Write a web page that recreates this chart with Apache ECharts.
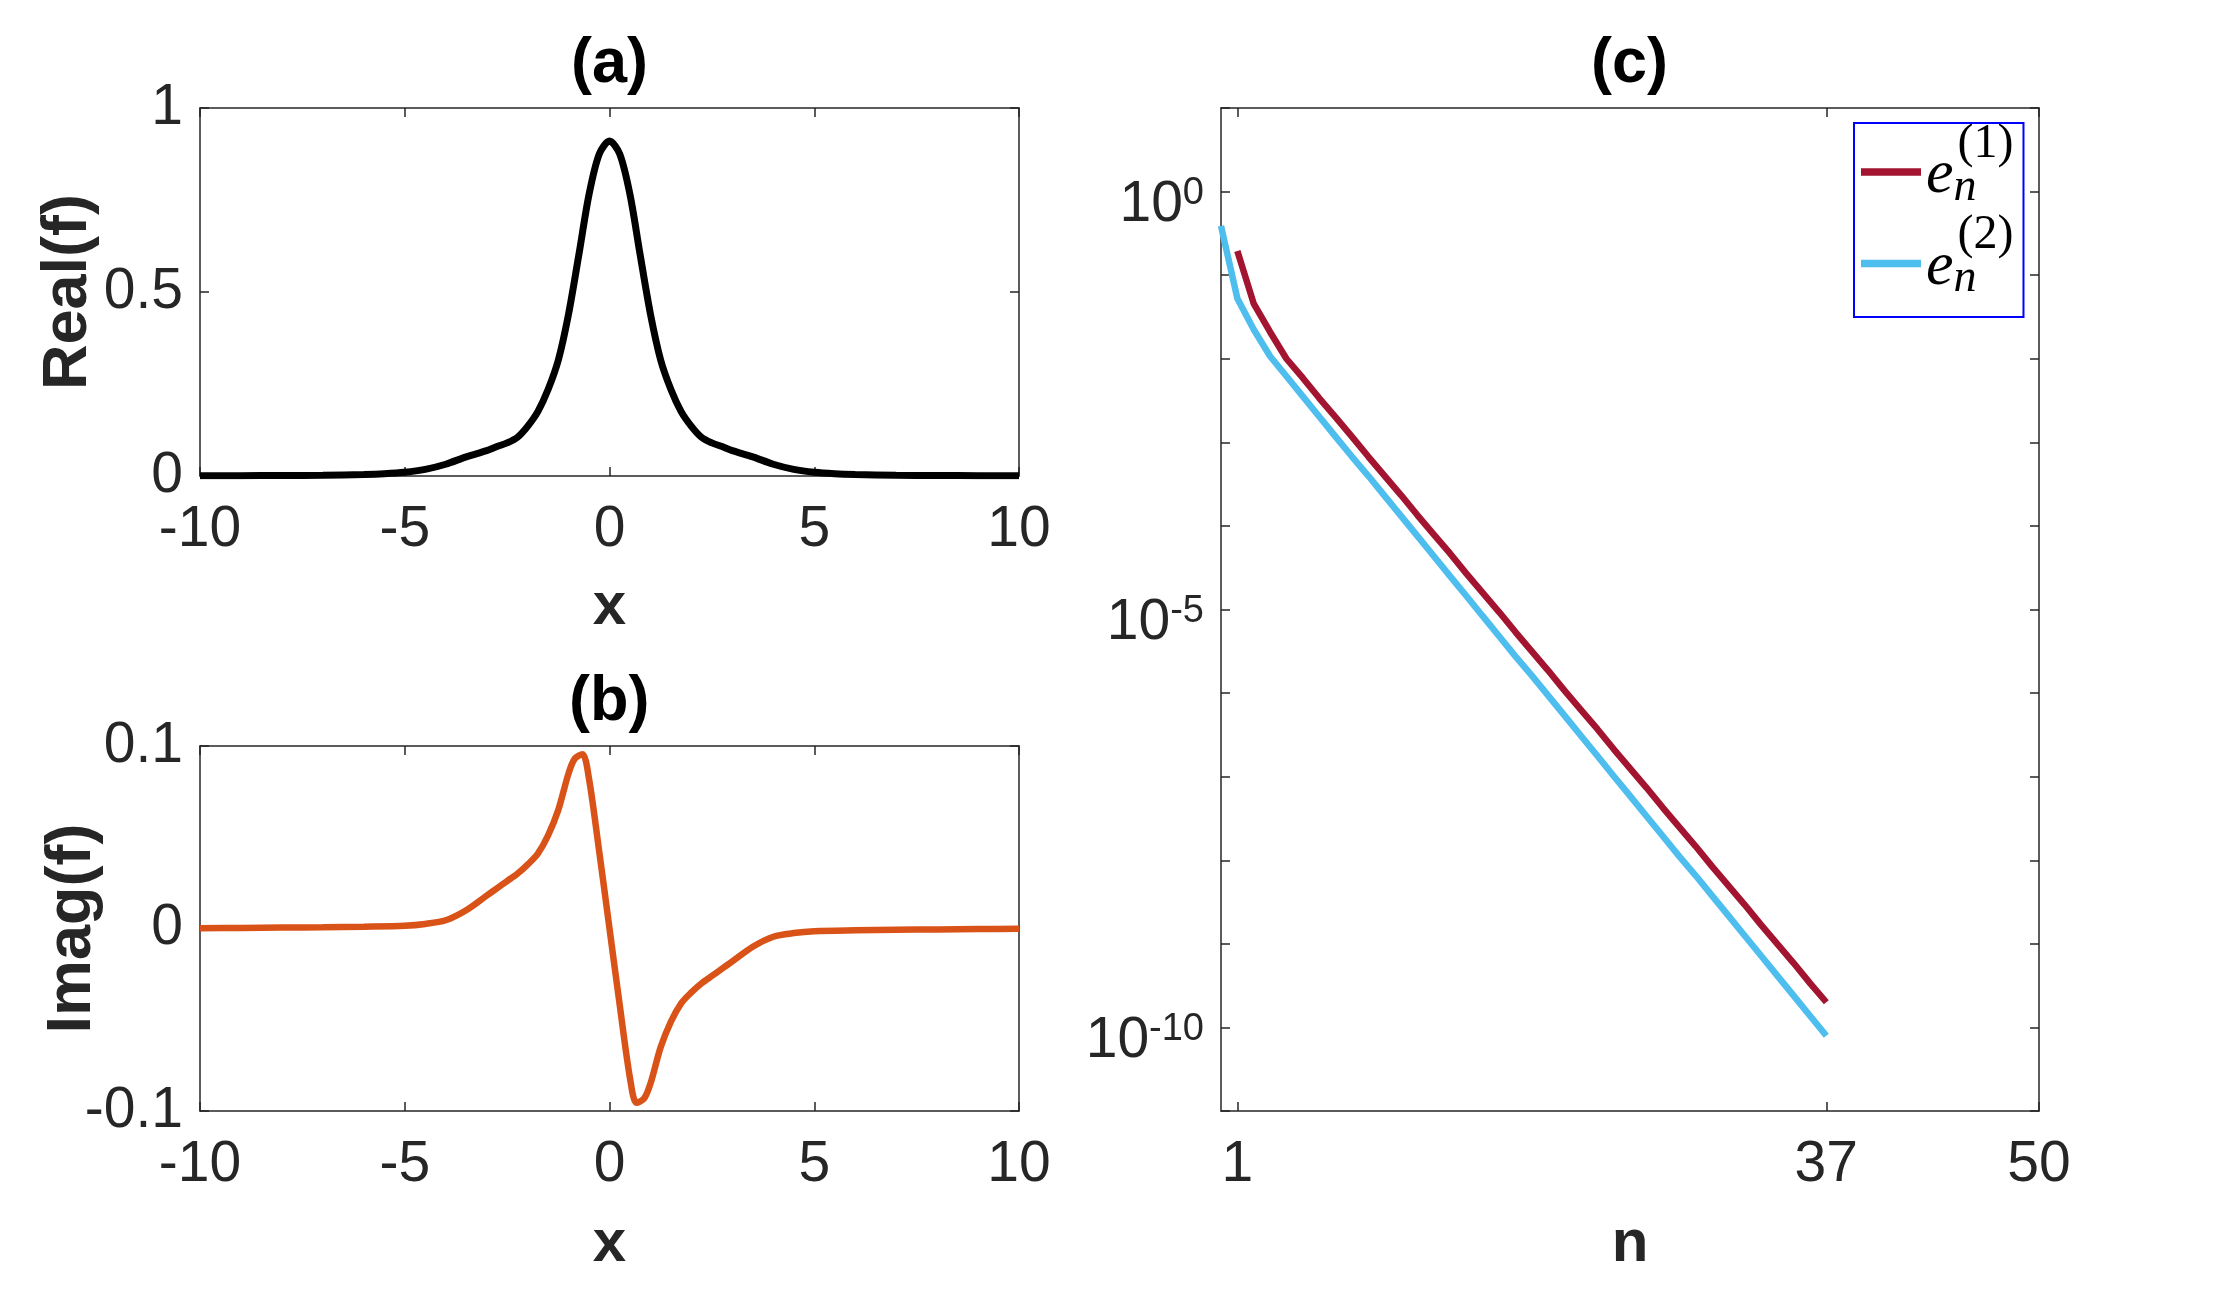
<!DOCTYPE html>
<html><head><meta charset="utf-8">
<script src="https://cdn.jsdelivr.net/npm/echarts@6/dist/echarts.min.js"></script>
<style>html,body{margin:0;padding:0;background:#fff}#c{width:2240px;height:1291px}</style>
</head><body><div id="c"></div><script>
// Panel (a): Real(f)
const xReal = [-10,-9,-8,-7,-6,-5.5,-5,-4.5,-4,-3.5,-3,-2.75,-2.5,-2.25,-2,-1.75,-1.5,-1.25,-1,-0.75,-0.5,-0.25,0,0.25,0.5,0.75,1,1.25,1.5,1.75,2,2.25,2.5,2.75,3,3.5,4,4.5,5,5.5,6,7,8,9,10];
const realF = [0.001,0.001,0.0015,0.002,0.004,0.006,0.010,0.018,0.032,0.052,0.069,0.080,0.090,0.105,0.135,0.175,0.235,0.315,0.44,0.60,0.765,0.875,0.91,0.875,0.765,0.60,0.44,0.315,0.235,0.175,0.135,0.105,0.090,0.080,0.069,0.052,0.032,0.018,0.010,0.006,0.004,0.002,0.0015,0.001,0.001];
// Panel (b): Imag(f)
const xImag = [-10,-9,-8,-7,-6,-5,-4.5,-4,-3.5,-3,-2.75,-2.5,-2.25,-2,-1.75,-1.5,-1.25,-1,-0.85,-0.66,-0.5,-0.25,0,0.25,0.5,0.66,0.85,1,1.25,1.5,1.75,2,2.25,2.5,2.75,3,3.5,4,4.5,5,6,7,8,9,10];
const imagF = [0.0002,0.0003,0.0005,0.0007,0.001,0.0015,0.0025,0.0045,0.010,0.018,0.022,0.026,0.030,0.035,0.041,0.051,0.065,0.085,0.093,0.0955,0.082,0.042,0,-0.042,-0.082,-0.0955,-0.093,-0.085,-0.065,-0.051,-0.041,-0.035,-0.030,-0.026,-0.022,-0.018,-0.010,-0.0045,-0.0025,-0.0015,-0.001,-0.0007,-0.0005,-0.0003,-0.0002];
// Panel (c): errors
const n1 = [1,2,3,4,5,6,7,8,9,10,11,12,13,14,15,16,17,18,19,20,21,22,23,24,25,26,27,28,29,30,31,32,33,34,35,36,37];
const err1 = [1.95e-1,4.57e-2,2.09e-2,1.00e-2,5.89e-3,3.39e-3,2.00e-3,1.17e-3,6.76e-4,3.98e-4,2.34e-4,1.35e-4,7.94e-5,4.68e-5,2.69e-5,1.58e-5,9.33e-6,5.37e-6,3.16e-6,1.86e-6,1.07e-6,6.31e-7,3.72e-7,2.14e-7,1.26e-7,7.41e-8,4.27e-8,2.51e-8,1.48e-8,8.51e-9,5.01e-9,2.95e-9,1.70e-9,1.00e-9,5.89e-10,3.39e-10,2.00e-10];
const n2 = [0,1,2,3,4,5,6,7,8,9,10,11,12,13,14,15,16,17,18,19,20,21,22,23,24,25,26,27,28,29,30,31,32,33,34,35,36,37];
const err2 = [3.89e-1,5.25e-2,2.24e-2,1.07e-2,6.17e-3,3.55e-3,2.04e-3,1.17e-3,6.76e-4,3.98e-4,2.29e-4,1.32e-4,7.59e-5,4.37e-5,2.51e-5,1.45e-5,8.32e-6,4.79e-6,2.75e-6,1.62e-6,9.33e-7,5.37e-7,3.09e-7,1.78e-7,1.02e-7,5.89e-8,3.39e-8,1.95e-8,1.12e-8,6.61e-9,3.80e-9,2.19e-9,1.26e-9,7.24e-10,4.17e-10,2.40e-10,1.38e-10,7.94e-11];
const nTicks = [1,37,50];
const titles = ['(a)','(b)','(c)'];

const FONT = "'Liberation Sans', Arial, Helvetica, sans-serif";
const SERIF = "'Liberation Serif','Times New Roman',serif";
const AX = '#262626';
const zip = (a,b) => a.map((v,i)=>[v,b[i]]);

const baseAxisLine = {show:true, onZero:false, lineStyle:{color:AX, width:1.5}};
const tick = {show:true, inside:true, length:9, lineStyle:{color:AX, width:1.5}};
const lbl = (m) => ({fontSize:57, color:AX, fontFamily:FONT, margin:m});

function valueX(grid, pos, show, extra){
  return Object.assign({type:'value', gridIndex:grid, position:pos, min:-10, max:10, interval:5,
    axisLine:baseAxisLine, axisTick:tick, splitLine:{show:false},
    axisLabel: show ? lbl(26) : {show:false}}, extra||{});
}
function valueY(grid, pos, show, min, max, interval, extra){
  return Object.assign({type:'value', gridIndex:grid, position:pos, min:min, max:max, interval:interval,
    axisLine:baseAxisLine, axisTick:tick, splitLine:{show:false},
    axisLabel: show ? lbl(17) : {show:false}}, extra||{});
}
const nameBold = {fontSize:60, fontWeight:'bold', color:AX, fontFamily:FONT};
const nameBoldY = {fontSize:63, fontWeight:'bold', color:AX, fontFamily:FONT};

const logLabel = {
  show:true, margin:17, color:AX, fontFamily:FONT,
  formatter: function(v){
    const e = Math.round(Math.log10(v));
    if (e % 5 !== 0) return '';
    return '{b|10}{s|' + e + '}';
  },
  rich:{
    b:{fontSize:57, color:AX, fontFamily:FONT, lineHeight:60, padding:[27,0,0,0]},
    s:{fontSize:38, color:AX, fontFamily:FONT, lineHeight:60, padding:[4,0,0,0]}
  }
};

const titleStyle = {fontSize:63, fontWeight:'bold', color:'#000', fontFamily:FONT};

const option = {
  animation:false,
  backgroundColor:'#fff',
  title: [
    {text:titles[0], left:571, top:33, padding:0, textStyle:titleStyle},
    {text:titles[1], left:569, top:671, padding:0, textStyle:titleStyle},
    {text:titles[2], left:1591, top:33, padding:0, textStyle:titleStyle}
  ],
  grid: [
    {left:200, top:108, width:819, height:368, containLabel:false},
    {left:200, top:746, width:819, height:365, containLabel:false},
    {left:1221, top:108, width:818, height:1003, containLabel:false}
  ],
  xAxis: [
    valueX(0,'bottom',true,{name:'x', nameLocation:'middle', nameGap:101, nameTextStyle:nameBold}),
    valueX(0,'top',false),
    valueX(1,'bottom',true,{name:'x', nameLocation:'middle', nameGap:103, nameTextStyle:nameBold}),
    valueX(1,'top',false),
    {type:'value', gridIndex:2, position:'bottom', min:0, max:50,
      axisLine:baseAxisLine, splitLine:{show:false},
      axisTick:Object.assign({}, tick, {customValues:nTicks}),
      axisLabel:Object.assign(lbl(26), {customValues:nTicks}),
      name:'n', nameLocation:'middle', nameGap:103, nameTextStyle:nameBold},
    {type:'value', gridIndex:2, position:'top', min:0, max:50,
      axisLine:baseAxisLine, splitLine:{show:false},
      axisTick:Object.assign({}, tick, {customValues:nTicks}),
      axisLabel:{show:false}}
  ],
  yAxis: [
    valueY(0,'left',true,0,1,0.5,{name:'Real(f)', nameLocation:'middle', nameGap:100, nameRotate:90, nameMoveOverlap:false, nameTextStyle:nameBoldY}),
    valueY(0,'right',false,0,1,0.5),
    valueY(1,'left',true,-0.1,0.1,0.1,{name:'Imag(f)', nameLocation:'middle', nameGap:96, nameRotate:90, nameMoveOverlap:false, nameTextStyle:nameBoldY}),
    valueY(1,'right',false,-0.1,0.1,0.1),
    {type:'log', logBase:10, gridIndex:2, position:'left', min:1e-11, max:10, interval:1,
      axisLine:baseAxisLine, axisTick:tick, splitLine:{show:false}, minorTick:{show:false},
      axisLabel:logLabel},
    {type:'log', logBase:10, gridIndex:2, position:'right', min:1e-11, max:10, interval:1,
      axisLine:baseAxisLine, axisTick:tick, splitLine:{show:false}, axisLabel:{show:false}}
  ],
  legend: {
    show:true, orient:'vertical', left:1854, top:123,
    padding:[-3,10,13.5,7], itemGap:-0.5, itemWidth:60, itemHeight:7.5, icon:'rect',
    borderColor:'#0000ff', borderWidth:2, backgroundColor:'#fff', selectedMode:false,
    data:['e1','e2'],
    formatter: function(name){
      const k = name === 'e1' ? '(1)' : '(2)';
      return '{e|e}{n|n}{s|' + k + '}';
    },
    textStyle:{
      color:'#000', lineHeight:80,
      rich:{
        e:{fontSize:62, fontStyle:'italic', fontFamily:SERIF, color:'#000', lineHeight:80, height:72, verticalAlign:'bottom'},
        n:{fontSize:46, fontStyle:'italic', fontFamily:SERIF, color:'#000', lineHeight:80, height:49, width:4, verticalAlign:'bottom'},
        s:{fontSize:48, fontFamily:SERIF, color:'#000', lineHeight:80, height:24, verticalAlign:'top'}
      }
    }
  },
  series: [
    {type:'line', xAxisIndex:0, yAxisIndex:0, data:zip(xReal, realF), showSymbol:false, smooth:0.3,
      lineStyle:{color:'#000', width:7}, itemStyle:{color:'#000'}, z:5},
    {type:'line', xAxisIndex:2, yAxisIndex:2, data:zip(xImag, imagF), showSymbol:false, smooth:0.3,
      lineStyle:{color:'#D95319', width:6.5}, itemStyle:{color:'#D95319'}, z:5},
    {name:'e1', type:'line', xAxisIndex:4, yAxisIndex:4, data:zip(n1, err1), showSymbol:false,
      lineStyle:{color:'#A2142F', width:6.5}, itemStyle:{color:'#A2142F'}, z:5},
    {name:'e2', type:'line', xAxisIndex:4, yAxisIndex:4, data:zip(n2, err2), showSymbol:false,
      lineStyle:{color:'#4DBEEE', width:6.5}, itemStyle:{color:'#4DBEEE'}, z:5}
  ]
};
const chart = echarts.init(document.getElementById('c'), null, {renderer:'canvas'});
chart.setOption(option);
</script></body></html>
